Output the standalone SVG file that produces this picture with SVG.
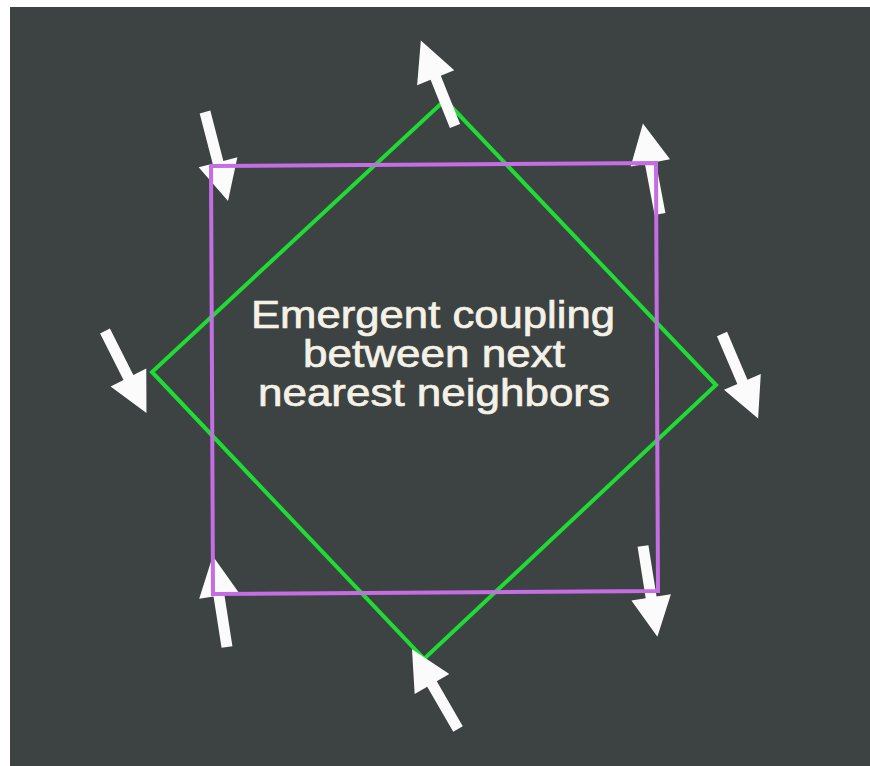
<svg xmlns="http://www.w3.org/2000/svg" xmlns:xlink="http://www.w3.org/1999/xlink" width="870" height="766" viewBox="0 0 870 766">
  <style>
    .bg { fill: #3d4242; }
    .square { fill: none; stroke: #c56ee3; stroke-width: 4; stroke-linejoin: miter; }
    .diamond { fill: none; stroke: #1fdc35; stroke-width: 4; stroke-linejoin: miter; }
    .spin { fill: #fbfbfb; }
    .label { font-family: "Liberation Sans", Arial, Helvetica, sans-serif; font-size: 38px; fill: #f4f1e6; stroke: #f4f1e6; stroke-width: 0.7; text-anchor: middle; }
  </style>
  <defs>
    <!-- spin arrow: tail at origin, pointing along +x -->
    <path id="spin" d="M0,-5.5 H52 V-20 L92,0 L52,20 V5.5 H0 Z"/>
  </defs>

  <rect width="870" height="766" fill="#ffffff"/>
  <rect class="bg" x="10" y="7" width="860" height="759"/>

  <!-- next-nearest-neighbour plaquette (diamond) -->
  <g id="diamond">
    <polygon class="diamond" points="445,100 716,385 424,659 152,372"/>
  </g>

  <!-- spins -->
  <g id="spins" class="spin">
    <use id="spin-top" xlink:href="#spin" transform="translate(455,126) rotate(-111.8)"/>
    <use id="spin-tl" xlink:href="#spin" transform="translate(205,112) rotate(75.5)"/>
    <use id="spin-tr" xlink:href="#spin" transform="translate(660,214) rotate(-100.7)"/>
    <use id="spin-left" xlink:href="#spin" transform="translate(105,331) rotate(63.2)"/>
    <use id="spin-right" xlink:href="#spin" transform="translate(722,334) rotate(66.9)"/>
    <use id="spin-bl" xlink:href="#spin" transform="translate(227,647) rotate(-98.9)"/>
    <use id="spin-bottom" xlink:href="#spin" transform="translate(458,729) rotate(-120)"/>
    <use id="spin-br" xlink:href="#spin" transform="translate(643,546) rotate(81)"/>
  </g>

  <!-- nearest-neighbour plaquette (square) -->
  <g id="square">
    <polygon class="square" points="211,166 656,163 658,591 213,594"/>
  </g>

  <g id="label">
    <text class="label" x="433" y="328" textLength="364" lengthAdjust="spacingAndGlyphs">Emergent coupling</text>
    <text class="label" x="434" y="367" textLength="262" lengthAdjust="spacingAndGlyphs">between next</text>
    <text class="label" x="434" y="406" textLength="352" lengthAdjust="spacingAndGlyphs">nearest neighbors</text>
  </g>
</svg>
